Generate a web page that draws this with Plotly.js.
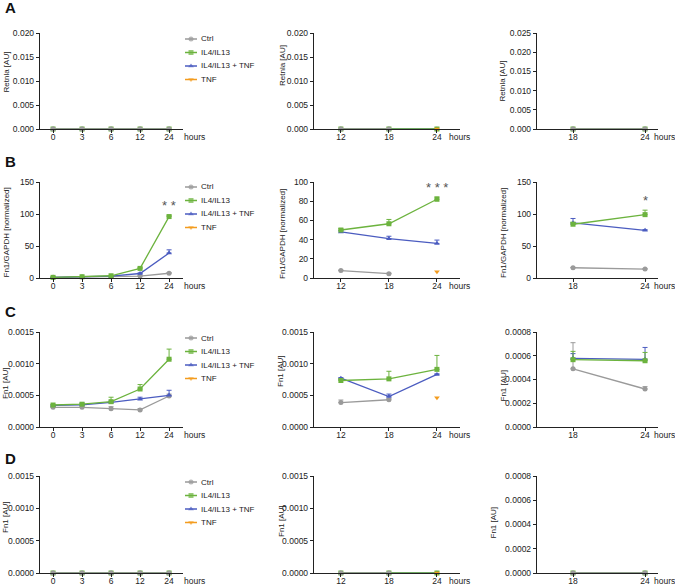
<!DOCTYPE html>
<html><head><meta charset="utf-8">
<script src="https://cdn.plot.ly/plotly-3.0.1.min.js"></script>
<style>body{margin:0;background:#fff}#chart{width:675px;height:586px}</style>
</head><body><div id="chart"></div>
<script>
// ---- categories ----
const hoursLong = ['0','3','6','12','24'];
const hoursMid = ['12','18','24'];
const hoursLate = ['18','24'];
const seriesNames = ['Ctrl','IL4/IL13','IL4/IL13 + TNF','TNF'];
const yTitles = ['Retnla [AU]','Fn1/GAPDH [normalized]','Fn1 [AU]','Fn1 [AU]'];
const panelLetters = ['A','B','C','D'];

// ---- Row A: Retnla ----
const A1_ctrl = [0,0,0,0,0];
const A1_il = [0,0,0,0,0];
const A1_iltnf = [0,0,0,0,0];
const A2_ctrl = [0,0,null];
const A2_il = [0,0,0];
const A2_iltnf = [0,0,0];
const A2_tnf = [null,null,0];
const A3_ctrl = [0,0];
const A3_il = [0,0];
const A3_iltnf = [0,0];

// ---- Row B: Fn1/GAPDH ----
const B1_ctrl = [1,1.5,2,3,7.4];
const B1_ctrl_err = [0.3,0.3,0.3,0.5,1];
const B1_il = [1,2,3.5,15,96];
const B1_il_err = [0.2,0.3,0.5,1.5,2];
const B1_iltnf = [1,1.5,3,7,39];
const B1_iltnf_err = [0.2,0.3,0.5,1,5];
const B2_ctrl = [7.7,4.5,null];
const B2_ctrl_err = [0.5,0.5,0];
const B2_il = [50,56.5,82];
const B2_il_err = [1.5,4.5,2.5];
const B2_iltnf = [48,41,36];
const B2_iltnf_err = [1.5,2.5,3.5];
const B2_tnf = [null,null,6.6];
const B3_ctrl = [16,14];
const B3_ctrl_err = [0.5,0.5];
const B3_il = [84,99];
const B3_il_err = [3,7];
const B3_iltnf = [86,74.5];
const B3_iltnf_err = [7,1];

// ---- Row C: Fn1 ----
const C1_ctrl = [0.00031,0.00031,0.00029,0.00027,0.00049];
const C1_ctrl_err = [0.00001,0.00001,0.00003,0.00002,0.00003];
const C1_il = [0.000347,0.00036,0.0004,0.0006,0.00107];
const C1_il_err = [0.00001,0.00001,0.00007,0.00007,0.00016];
const C1_iltnf = [0.00034,0.00035,0.00039,0.00044,0.0005];
const C1_iltnf_err = [0.00001,0.00003,0.00002,0.00003,0.00008];
const C2_ctrl = [0.000386,0.00043,null];
const C2_ctrl_err = [0.00004,0.00002,0];
const C2_il = [0.000734,0.00076,0.00091];
const C2_il_err = [0.00002,0.00012,0.00022];
const C2_iltnf = [0.00077,0.00048,0.00083];
const C2_iltnf_err = [0.00001,0.00004,0.00001];
const C2_tnf = [null,null,0.00046];
const C3_ctrl = [0.00049,0.00032];
const C3_ctrl_err = [0.00022,0.00002];
const C3_il = [0.000567,0.000558];
const C3_il_err = [0.00007,0.00007];
const C3_iltnf = [0.000578,0.00057];
const C3_iltnf_err = [0.00004,0.0001];

// ---- Row D: Fn1 ----
const D1_ctrl = [0,0,0,0,0];
const D1_il = [0,0,0,0,0];
const D1_iltnf = [0,0,0,0,0];
const D2_ctrl = [0,0,null];
const D2_il = [0,0,0];
const D2_iltnf = [0,0,0];
const D2_tnf = [null,null,0];
const D3_ctrl = [0,0];
const D3_il = [0,0];
const D3_iltnf = [0,0];

// ---- styling ----
const W = 675, H = 586;
const FONT = 'Liberation Sans, Arial, sans-serif';
const colors = ['#9a9a9a','#6cb33e','#4b5cc0','#f39c1f'];
const symbols = ['circle','square','triangle-up','triangle-down'];
const cols = [
  {x0:40, x1:183, range:[-0.45,4.48], cats:hoursLong, hx:182},
  {x0:314, x1:460, range:[-0.56,2.48], cats:hoursMid, hx:447},
  {x0:537, x1:658, range:[-0.5,1.18], cats:hoursLate, hx:652}
];
const rows = [{t:33,b:129},{t:182,b:278},{t:332,b:427},{t:476,b:573}];
const letterY = [8,161,311,458];
const legendTop = [39,187,338,482];
const titlePos = [
  [[5.5,72],[282,66],[502.5,81]],
  [[5.5,233],[282.5,234.5],[503.5,232.5]],
  [[5,383],[280,371],[502.5,386]],
  [[5,517],[281,521],[492.5,523]]
];

const panels = [
  [{d:[A1_ctrl,A1_il,A1_iltnf,null]},{d:[A2_ctrl,A2_il,A2_iltnf,A2_tnf]},{d:[A3_ctrl,A3_il,A3_iltnf,null]}],
  [{d:[B1_ctrl,B1_il,B1_iltnf,null],e:[B1_ctrl_err,B1_il_err,B1_iltnf_err,null]},
   {d:[B2_ctrl,B2_il,B2_iltnf,B2_tnf],e:[B2_ctrl_err,B2_il_err,B2_iltnf_err,null]},
   {d:[B3_ctrl,B3_il,B3_iltnf,null],e:[B3_ctrl_err,B3_il_err,B3_iltnf_err,null]}],
  [{d:[C1_ctrl,C1_il,C1_iltnf,null],e:[C1_ctrl_err,C1_il_err,C1_iltnf_err,null]},
   {d:[C2_ctrl,C2_il,C2_iltnf,C2_tnf],e:[C2_ctrl_err,C2_il_err,C2_iltnf_err,null]},
   {d:[C3_ctrl,C3_il,C3_iltnf,null],e:[C3_ctrl_err,C3_il_err,C3_iltnf_err,null]}],
  [{d:[D1_ctrl,D1_il,D1_iltnf,null]},{d:[D2_ctrl,D2_il,D2_iltnf,D2_tnf]},{d:[D3_ctrl,D3_il,D3_iltnf,null]}]
];
const yCfg = [
  [{max:0.02,dt:0.005,f:'.3f'},{max:0.02,dt:0.005,f:'.3f'},{max:0.025,dt:0.005,f:'.3f'}],
  [{max:150,dt:50,f:'d'},{max:100,dt:20,f:'d'},{max:150,dt:50,f:'d'}],
  [{max:0.0015,dt:0.0005,f:'.4f'},{max:0.0015,dt:0.0005,f:'.4f'},{max:0.0008,dt:0.0002,f:'.4f'}],
  [{max:0.0015,dt:0.0005,f:'.4f'},{max:0.0015,dt:0.0005,f:'.4f'},{max:0.0008,dt:0.0002,f:'.4f'}]
];
// significance marks: panel index, text, category index, value
const stars = [{p:3,text:'* *',xi:4,y:96,shift:11},{p:4,text:'* * *',xi:2,y:82,shift:12},{p:5,text:'*',xi:1,y:99,shift:14}];

const orderData = [0,2,1,3];
const orderZero = [2,1,0,3];
const traces = [];
const layout = {
  width:W, height:H, margin:{l:0,r:0,t:0,b:0}, paper_bgcolor:'#fff', plot_bgcolor:'rgba(0,0,0,0)',
  showlegend:false, font:{family:FONT, color:'#222'}, annotations:[]
};

rows.forEach((row, r) => {
  cols.forEach((col, c) => {
    const id = r*3 + c + 1;
    const P = panels[r][c];
    const ord = P.e ? orderData : orderZero;
    ord.forEach(s => {
      const y = P.d[s];
      if (!y) return;
      const t = {
        x: col.cats, y: y, type:'scatter', mode:'lines+markers', name: seriesNames[s],
        xaxis:'x'+id, yaxis:'y'+id, cliponaxis:false,
        line:{color:colors[s], width:1.3},
        marker:{color:colors[s], symbol:symbols[s], size:5},
        hoverinfo:'skip'
      };
      if (P.e && P.e[s]) t.error_y = {type:'data', symmetric:false, array:P.e[s],
        arrayminus:P.e[s].map(() => 0), visible:true, thickness:1, width:2.5, color:colors[s]};
      traces.push(t);
    });
    const yc = yCfg[r][c];
    layout['xaxis'+id] = {
      domain:[col.x0/W, col.x1/W], type:'category', categoryorder:'array', categoryarray:col.cats,
      range:col.range, anchor:'y'+id, showline:true, linecolor:'#222', linewidth:1.2,
      ticks:'outside', ticklen:3, tickcolor:'#222', tickwidth:1, showgrid:false, zeroline:false,
      ticklabelstandoff:-3,
      tickfont:{size:8.5, color:'#222', family:FONT}, fixedrange:true
    };
    layout['yaxis'+id] = {
      domain:[1-row.b/H, 1-row.t/H], range:[0, yc.max], tick0:0, dtick:yc.dt, tickformat:yc.f,
      anchor:'x'+id, showline:true, linecolor:'#222', linewidth:1.2,
      ticks:'outside', ticklen:3, tickcolor:'#222', tickwidth:1, showgrid:false, zeroline:false,
      tickfont:{size:8.5, color:'#222', family:FONT}, fixedrange:true
    };
    const tp = titlePos[r][c];
    layout.annotations.push({xref:'paper', yref:'paper', x:tp[0]/W, y:1-tp[1]/H, text:yTitles[r],
      textangle:-90, showarrow:false, xanchor:'center', yanchor:'middle', font:{size:8, color:'#222', family:FONT}});
    layout.annotations.push({xref:'paper', yref:'paper', x:col.hx/W, y:1-(row.b+8)/H, text:'hours',
      showarrow:false, xanchor:'left', yanchor:'middle', font:{size:8.5, color:'#222', family:FONT}});
  });
  layout.annotations.push({xref:'paper', yref:'paper', x:3/W, y:1-letterY[r]/H, text:'<b>'+panelLetters[r]+'</b>',
    showarrow:false, xanchor:'left', yanchor:'middle', font:{size:15, color:'#111', family:FONT}});
  const lid = 13 + r;
  const top = legendTop[r] - 6.75;
  layout['xaxis'+lid] = {domain:[185/W, 265/W], range:[0,80], visible:false, anchor:'y'+lid, fixedrange:true};
  layout['yaxis'+lid] = {domain:[1-(top+54)/H, 1-top/H], range:[3.5,-0.5], visible:false, anchor:'x'+lid, fixedrange:true};
  seriesNames.forEach((nm, s) => {
    traces.push({x:[0,6,12], y:[s,s,s], type:'scatter', mode:'lines+markers', xaxis:'x'+lid, yaxis:'y'+lid,
      line:{color:colors[s], width:1.3}, marker:{color:colors[s], symbol:symbols[s], size:[0,5,0], line:{width:0}},
      hoverinfo:'skip', cliponaxis:false});
    layout.annotations.push({xref:'x'+lid, yref:'y'+lid, x:14, y:s, text:nm, showarrow:false,
      xanchor:'left', yanchor:'middle', font:{size:8, color:'#222', family:FONT}});
  });
});

stars.forEach(st => {
  const id = st.p + 1;
  layout.annotations.push({xref:'x'+id, yref:'y'+id, x:st.xi, y:st.y, text:st.text, showarrow:false,
    yshift:st.shift, xanchor:'center', yanchor:'middle', font:{size:13, color:'#555', family:FONT}});
});

Plotly.newPlot('chart', traces, layout, {staticPlot:true, displayModeBar:false});
</script>
</body></html>
